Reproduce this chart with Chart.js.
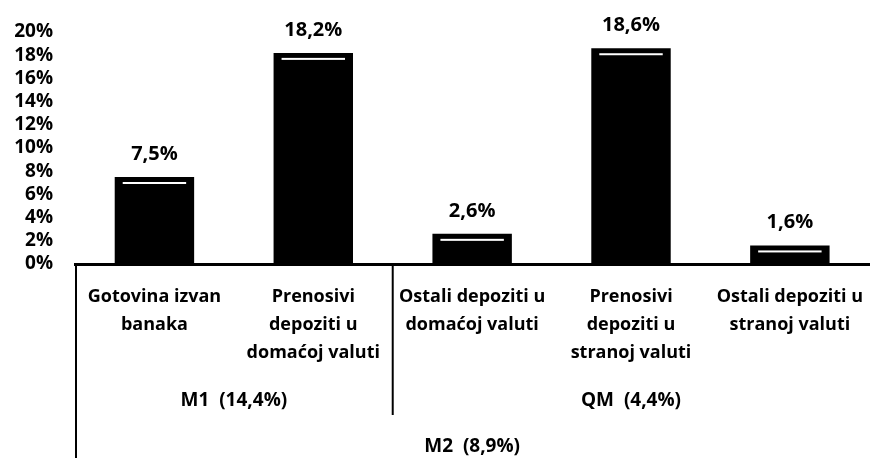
<!DOCTYPE html>
<html>
<head>
<meta charset="utf-8">
<script src="https://cdn.jsdelivr.net/npm/chart.js@4/dist/chart.umd.min.js"></script>
<style>
  html, body { margin: 0; padding: 0; background: #fff; overflow: hidden; }
  #wrap { width: 882px; height: 458px; }
</style>
</head>
<body>
<div id="wrap"><canvas id="c" width="882" height="458"></canvas></div>
<script>
// ---- data ----
const categories = [
  ["Gotovina izvan", "banaka"],
  ["Prenosivi", "depoziti u", "domaćoj valuti"],
  ["Ostali depoziti u", "domaćoj valuti"],
  ["Prenosivi", "depoziti u", "stranoj valuti"],
  ["Ostali depoziti u", "stranoj valuti"]
];
const values = [7.5, 18.2, 2.6, 18.6, 1.6];
const yTicks = [0, 2, 4, 6, 8, 10, 12, 14, 16, 18, 20];
const groupLevel1Labels = ["M1  (14,4%)", "QM  (4,4%)"];
const groupLevel1Ranges = [[0, 1], [2, 4]];
const groupLevel2Labels = ["M2  (8,9%)"];
const groupLevel2Ranges = [[0, 4]];

const FONT = "'Open Sans', 'DejaVu Sans', sans-serif";
const fmt = v => v.toFixed(1).replace('.', ',') + '%';

const decor = {
  id: 'decor',
  afterDatasetsDraw(chart) {
    const ctx = chart.ctx;
    const meta = chart.getDatasetMeta(0);
    const area = chart.chartArea;
    const xs = chart.scales.x;
    ctx.save();
    // white highlight lines inside bars + value labels
    meta.data.forEach((bar, i) => {
      const p = bar.getProps(['x', 'y', 'width'], true);
      ctx.fillStyle = '#ffffff';
      ctx.fillRect(p.x - p.width / 2 + 8, p.y + 5, p.width - 16, 2);
      ctx.fillStyle = '#000';
      ctx.font = "700 20px " + FONT;
      ctx.textAlign = 'center';
      ctx.textBaseline = 'middle';
      ctx.fillText(fmt(values[i]), p.x, p.y - 23);
    });
    // hierarchy lines
    const half = (xs.getPixelForValue(1) - xs.getPixelForValue(0)) / 2;
    const edgeL = i => xs.getPixelForValue(i) - half;
    const edgeR = i => xs.getPixelForValue(i) + half;
    ctx.strokeStyle = '#000';
    ctx.lineWidth = 2;
    // left outer line
    ctx.beginPath();
    ctx.moveTo(area.left + 1, area.bottom);
    ctx.lineTo(area.left + 1, chart.height);
    ctx.stroke();
    // separator between level-1 groups
    for (let g = 1; g < groupLevel1Ranges.length; g++) {
      const xb = edgeL(groupLevel1Ranges[g][0]);
      ctx.beginPath();
      ctx.moveTo(xb, area.bottom);
      ctx.lineTo(xb, area.bottom + 151);
      ctx.stroke();
    }
    // group labels
    ctx.fillStyle = '#000';
    ctx.font = "700 19px " + FONT;
    ctx.textAlign = 'center';
    ctx.textBaseline = 'middle';
    groupLevel1Ranges.forEach((r, g) => {
      const cx = (edgeL(r[0]) + edgeR(r[1])) / 2;
      ctx.fillText(groupLevel1Labels[g], cx, area.bottom + 137);
    });
    groupLevel2Ranges.forEach((r, g) => {
      const cx = (edgeL(r[0]) + edgeR(r[1])) / 2;
      ctx.fillText(groupLevel2Labels[g], cx, area.bottom + 183);
    });
    ctx.restore();
  }
};

new Chart(document.getElementById('c'), {
  type: 'bar',
  data: {
    labels: categories,
    datasets: [{
      data: values,
      backgroundColor: '#000',
      borderWidth: 0,
      barPercentage: 0.5,
      categoryPercentage: 1.0
    }]
  },
  options: {
    responsive: false,
    animation: false,
    devicePixelRatio: 1,
    layout: { padding: { top: 32, right: 0, bottom: 0, left: 0 } },
    plugins: { legend: { display: false }, tooltip: { enabled: false } },
    scales: {
      x: {
        grid: { display: false, drawTicks: false },
        border: { display: true, color: '#000', width: 3 },
        ticks: {
          color: '#000',
          font: { family: FONT, size: 18, weight: '700', lineHeight: 1.55 },
          padding: 19,
          autoSkip: false,
          maxRotation: 0,
          minRotation: 0
        },
        afterFit(scale) { scale.height = 194; }
      },
      y: {
        min: 0,
        max: 20,
        grid: { display: false, drawTicks: false },
        border: { display: false },
        afterBuildTicks(scale) { scale.ticks = yTicks.map(v => ({ value: v })); },
        ticks: {
          color: '#000',
          font: { family: FONT, size: 19, weight: '700', lineHeight: 1.0 },
          padding: 22,
          autoSkip: false,
          callback: v => v + '%'
        },
        afterFit(scale) { scale.width = 75; }
      }
    }
  },
  plugins: [decor]
});
</script>
</body>
</html>
